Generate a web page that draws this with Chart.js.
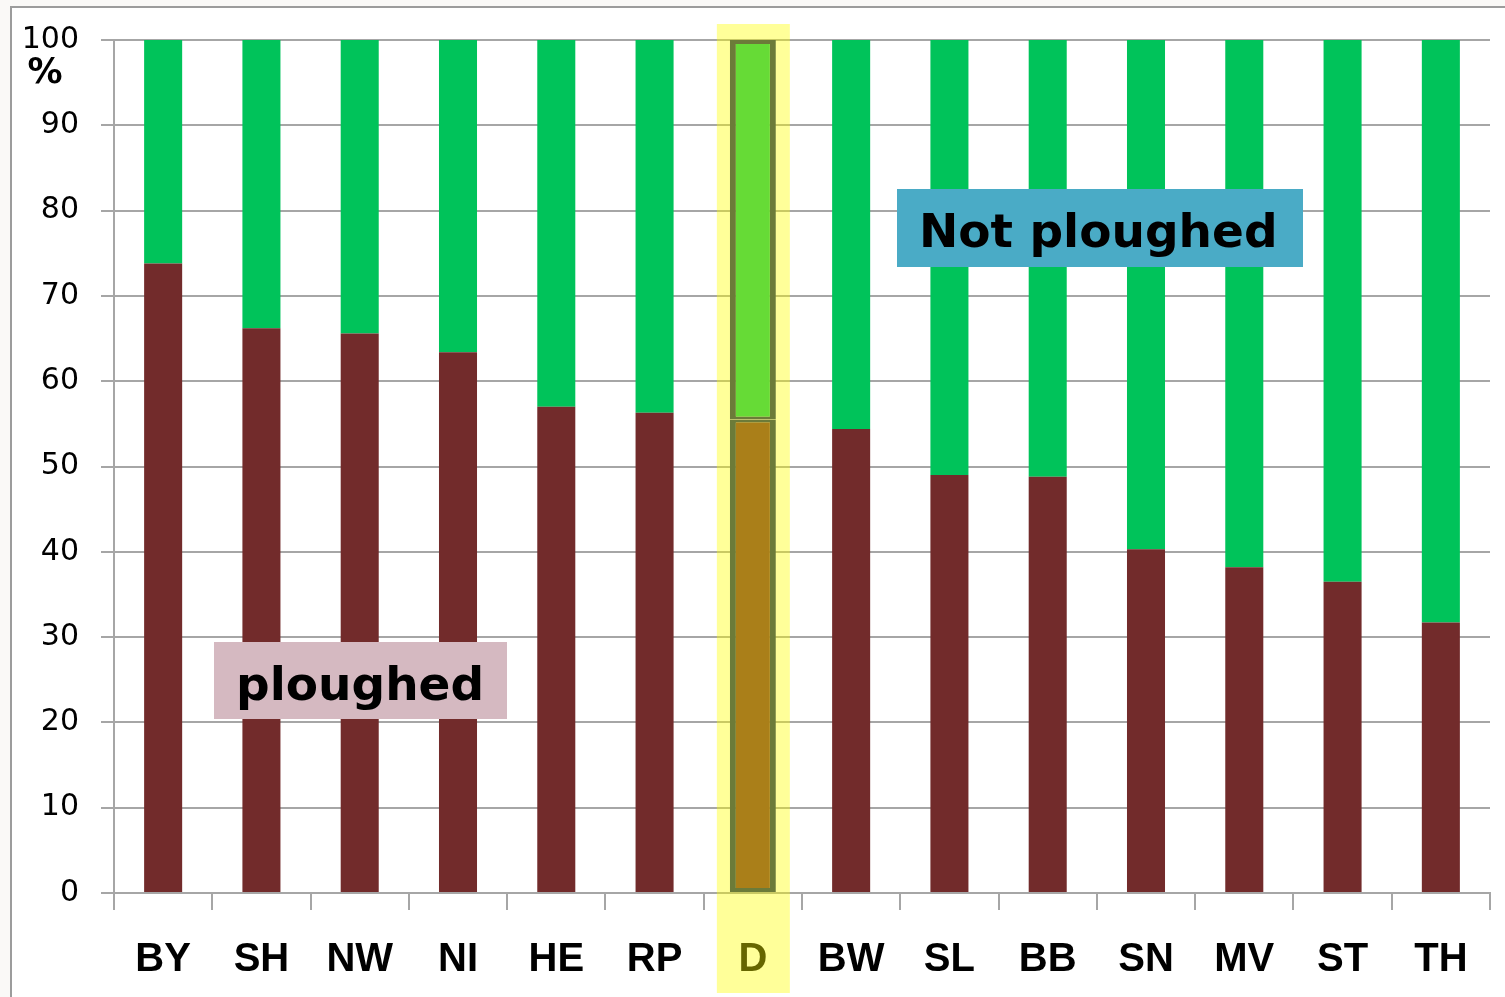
<!DOCTYPE html>
<html>
<head>
<meta charset="utf-8">
<script src="https://cdn.jsdelivr.net/npm/chart.js@4.4.1/dist/chart.umd.min.js"></script>
<style>
  html, body { margin: 0; padding: 0; background: #faf9f7; }
  canvas { display: block; }
</style>
</head>
<body>
<canvas id="chart" width="1505" height="997"></canvas>
<script>
(function () {
  'use strict';

  // states, sorted by share of ploughed land; D = Germany average
  const states = ['BY', 'SH', 'NW', 'NI', 'HE', 'RP', 'D', 'BW', 'SL', 'BB', 'SN', 'MV', 'ST', 'TH'];
  const ploughed = [73.8, 66.2, 65.6, 63.4, 57.0, 56.3, 55.5, 54.4, 49.0, 48.8, 40.3, 38.2, 36.5, 31.7];
  const notPloughed = [26.2, 33.8, 34.4, 36.6, 43.0, 43.7, 44.5, 45.6, 51.0, 51.2, 59.7, 61.8, 63.5, 68.3];
  const yTicks = [0, 10, 20, 30, 40, 50, 60, 70, 80, 90, 100];
  const highlight = 'D';

  const gridGrey = '#a6a6a6';
  const labelFont = "'Liberation Sans Narrow', 'Liberation Sans', Arial, sans-serif";
  const textFont = "'DejaVu Sans', Verdana, sans-serif";

  function only(arr, keep) {
    return arr.map(function (v, i) { return (states[i] === highlight) === keep ? v : null; });
  }

  const frame = {
    id: 'frame',
    beforeDraw: function (chart) {
      const ctx = chart.ctx;
      ctx.save();
      ctx.fillStyle = '#faf9f7';
      ctx.fillRect(0, 0, chart.width, chart.height);
      ctx.fillStyle = '#ffffff';
      ctx.fillRect(12, 8, chart.width - 12, chart.height - 8);
      ctx.strokeStyle = '#9c9c9c';
      ctx.lineWidth = 2;
      ctx.beginPath();
      ctx.moveTo(11, chart.height);
      ctx.lineTo(11, 7);
      ctx.lineTo(chart.width, 7);
      ctx.stroke();
      ctx.restore();
    }
  };

  function box(ctx, x, y, w, h, fill, text, tx, ty) {
    ctx.fillStyle = fill;
    ctx.fillRect(x, y, w, h);
    ctx.fillStyle = '#000';
    ctx.font = 'bold 47px ' + textFont;
    ctx.textAlign = 'left';
    ctx.textBaseline = 'alphabetic';
    ctx.fillText(text, tx, ty);
  }

  const notes = {
    id: 'notes',
    afterDatasetsDraw: function (chart) {
      const ctx = chart.ctx;
      ctx.save();
      box(ctx, 897, 189, 406, 78, '#4aabc6', 'Not ploughed', 919, 247);
      box(ctx, 214, 642, 293, 77, '#d5b9c1', 'ploughed', 236, 700);
      // unit under the top tick
      ctx.fillStyle = '#000';
      ctx.font = 'bold 35px ' + textFont;
      ctx.textAlign = 'center';
      ctx.textBaseline = 'middle';
      ctx.fillText('%', 45, 74);
      ctx.restore();
    },
    afterDraw: function (chart) {
      const ctx = chart.ctx;
      const cx = chart.scales.x.getPixelForValue(states.indexOf(highlight));
      ctx.save();
      ctx.fillStyle = 'rgba(255, 255, 0, 0.4)';
      ctx.fillRect(cx - 36, chart.chartArea.top - 16, 73, 969);
      ctx.restore();
    }
  };

  new Chart(document.getElementById('chart'), {
    type: 'bar',
    data: {
      labels: states,
      datasets: [
        {
          label: 'ploughed',
          data: only(ploughed, false),
          backgroundColor: '#722b2b',
          barPercentage: 0.387,
          stack: 's'
        },
        {
          label: 'Not ploughed',
          data: only(notPloughed, false),
          backgroundColor: '#00c35a',
          barPercentage: 0.387,
          stack: 's'
        },
        {
          label: 'ploughed D',
          data: only(ploughed, true),
          backgroundColor: '#722b2b',
          borderColor: '#0a235f',
          borderWidth: { left: 6, right: 6, top: 3, bottom: 4 },
          borderSkipped: false,
          barPercentage: 0.468,
          stack: 's'
        },
        {
          label: 'Not ploughed D',
          data: only(notPloughed, true),
          backgroundColor: '#00c35a',
          borderColor: '#0a235f',
          borderWidth: { left: 6, right: 6, top: 4, bottom: 3 },
          borderSkipped: false,
          barPercentage: 0.468,
          stack: 's'
        }
      ]
    },
    options: {
      responsive: false,
      animation: false,
      layout: { padding: { top: 40, right: 15, left: 0, bottom: 0 } },
      datasets: { bar: { categoryPercentage: 1 } },
      scales: {
        x: {
          stacked: true,
          afterFit: function (s) { s.height = 104; },
          grid: { offset: true, drawOnChartArea: false, tickLength: 17, color: gridGrey, lineWidth: 2 },
          border: { display: true, color: gridGrey, width: 2 },
          ticks: {
            color: '#000',
            padding: 26,
            font: { family: labelFont, size: 40, weight: 'bold' }
          }
        },
        y: {
          stacked: true,
          min: 0,
          max: 100,
          afterFit: function (s) { s.width = 114; },
          afterBuildTicks: function (s) { s.ticks = yTicks.map(function (v) { return { value: v }; }); },
          grid: { color: gridGrey, lineWidth: 2, tickLength: 13 },
          border: { display: true, color: gridGrey, width: 2 },
          ticks: {
            color: '#000',
            padding: 22,
            font: { family: textFont, size: 30 }
          }
        }
      },
      plugins: {
        legend: { display: false },
        tooltip: { enabled: false }
      }
    },
    plugins: [frame, notes]
  });
})();
</script>
</body>
</html>
